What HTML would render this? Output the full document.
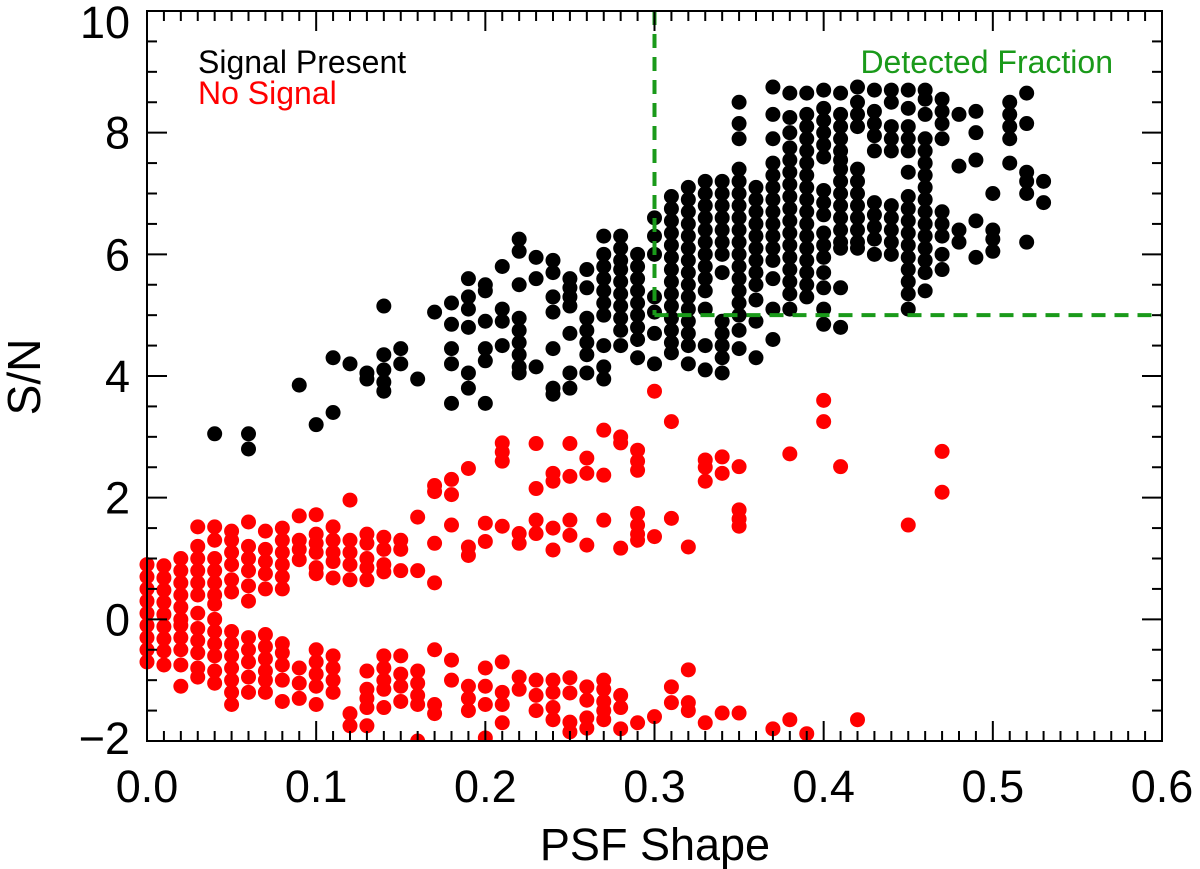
<!DOCTYPE html>
<html><head><meta charset="utf-8"><style>
html,body{margin:0;padding:0;background:#fff;}
svg{display:block;font-family:"Liberation Sans",sans-serif;}
</style></head><body>
<svg id="chart" width="1200" height="869" viewBox="0 0 1200 869" xmlns="http://www.w3.org/2000/svg">
<g id="marks"></g>
<g id="axes"></g>
<text x="198" y="73" font-size="32" fill="#000">Signal Present</text>
<text x="198" y="104" font-size="32" fill="#ff0000">No Signal</text>
<text x="1113" y="73" font-size="32" fill="#1a9a1a" text-anchor="end">Detected Fraction</text>
<text x="655" y="860" font-size="45" text-anchor="middle">PSF Shape</text>
<text transform="translate(40,377) rotate(-90)" font-size="46" text-anchor="middle">S/N</text>
</svg>
<script>
const xTicks=[0.0,0.1,0.2,0.3,0.4,0.5,0.6];
const xTickLabels=["0.0","0.1","0.2","0.3","0.4","0.5","0.6"];
const yTicks=[-2,0,2,4,6,8,10];
const yTickLabels=["\u22122","0","2","4","6","8","10"];
const detectX=0.3;
const detectY=5;

const blackX=[0.04,0.06,0.09,0.10,0.11,0.12,0.13,0.14,0.15,0.16,0.17,0.18,0.19,0.20,0.21,0.22,0.23,0.24,0.25,0.26,0.27,0.28,0.29,0.30,0.31,0.32,0.33,0.34,0.35,0.36,0.37,0.38,0.39,0.40,0.41,0.42,0.43,0.44,0.45,0.46,0.47,0.48,0.49,0.50,0.51,0.52,0.53];
const blackY=[
[3.05],[3.05,2.8],[3.85],[3.2],[4.3,3.4],[4.2],[4.05,3.95],[5.15,4.35,4.1,3.9,3.75],[4.45,4.2],[3.95],[5.05],
[5.2,4.85,4.45,4.2,3.55],[5.6,5.3,5.1,4.8,4.05,3.8],[5.5,5.4,4.9,4.45,4.25,3.55],[5.8,5.1,4.9,4.5],
[6.25,6.05,5.5,4.95,4.75,4.55,4.35,4.15,4.05],[5.95,5.6,4.15],[5.9,5.7,5.3,5.05,4.45,3.8,3.7],
[5.6,5.45,5.3,5.15,4.7,4.05,3.8],[5.75,5.45,4.95,4.75,4.55,4.35,4.05],
[6.3,6.0,5.8,5.6,5.4,5.2,5.0,4.5,4.15,3.95],[6.3,6.1,5.9,5.75,5.55,5.35,5.15,4.95,4.75,4.5],
[6.0,5.8,5.6,5.4,5.2,5.0,4.8,4.6,4.3],[6.6,6.3,6.0,5.3,5.05,4.7,4.2],
[6.95,6.75,6.55,6.35,6.15,5.95,5.75,5.55,5.35,5.15,4.95,4.75,4.55,4.38],
[7.1,6.9,6.7,6.5,6.3,6.1,5.9,5.7,5.5,5.3,5.1,4.9,4.7,4.5,4.2],
[7.2,7.0,6.8,6.6,6.4,6.2,6.0,5.8,5.6,5.4,5.1,4.5,4.1],
[7.2,7.0,6.8,6.6,6.4,6.2,6.0,5.7,4.9,4.7,4.5,4.3,4.05],
[8.5,8.15,7.9,7.4,7.2,7.0,6.8,6.6,6.4,6.2,6.0,5.8,5.6,5.4,5.2,5.0,4.75,4.45],
[7.1,6.9,6.7,6.5,6.3,6.1,5.9,5.7,5.5,5.25,4.9,4.3],
[8.75,8.3,7.9,7.5,7.3,7.1,6.9,6.7,6.5,6.3,6.1,5.9,5.6,5.1,4.6],
[8.65,8.25,8.0,7.75,7.55,7.35,7.15,6.95,6.75,6.55,6.35,6.15,5.95,5.75,5.55,5.35,5.1],
[8.65,8.3,8.1,7.9,7.7,7.5,7.3,7.1,6.9,6.7,6.5,6.3,6.1,5.9,5.7,5.5,5.3],
[8.7,8.4,8.2,8.0,7.8,7.6,7.05,6.85,6.65,6.35,6.15,5.95,5.7,5.45,5.1,4.85],
[8.65,8.3,8.1,7.9,7.7,7.55,7.4,7.2,7.0,6.8,6.6,6.4,6.2,6.1,5.45,4.8],
[8.75,8.5,8.3,8.1,7.4,7.2,7.0,6.8,6.6,6.4,6.2,6.1],
[8.7,8.35,8.15,7.95,7.7,6.85,6.65,6.45,6.25,6.0],
[8.7,8.5,8.1,7.9,7.7,6.8,6.6,6.4,6.2,6.0],
[8.7,8.4,8.1,7.9,7.7,7.35,6.95,6.75,6.55,6.35,6.15,5.95,5.75,5.55,5.35,5.1],
[8.7,8.55,8.3,7.9,7.7,7.5,7.3,7.1,6.9,6.7,6.5,6.3,6.1,5.9,5.7,5.4],
[8.55,8.35,8.15,7.9,6.7,6.5,6.3,6.0,5.75],
[8.3,7.45,6.4,6.2],[8.35,8.0,7.55,6.55,5.95],[7.0,6.4,6.25,6.05],[8.5,8.3,8.1,7.9,7.5],
[8.65,8.15,7.35,7.2,7.0,6.2],[7.2,6.85]
];

const redX=[0.00,0.01,0.02,0.03,0.04,0.05,0.06,0.07,0.08,0.09,0.10,0.11,0.12,0.13,0.14,0.15,0.16,0.17,0.18,0.19,0.20,0.21,0.22,0.23,0.24,0.25,0.26,0.27,0.28,0.29,0.30,0.31,0.32,0.33,0.34,0.35,0.37,0.38,0.39,0.40,0.41,0.42,0.45,0.47];
const redY=[
[0.9,0.7,0.5,0.3,0.1,-0.1,-0.3,-0.5,-0.7],
[0.88,0.68,0.48,0.28,0.08,-0.12,-0.32,-0.52,-0.75],
[1.0,0.8,0.6,0.4,0.2,0.0,-0.1,-0.3,-0.5,-0.75,-1.1],
[1.52,1.2,1.0,0.8,0.6,0.4,0.1,-0.15,-0.35,-0.55,-0.8,-0.95],
[1.52,1.3,1.0,0.8,0.6,0.4,0.25,0.0,-0.2,-0.4,-0.6,-0.85,-1.05],
[1.45,1.3,1.1,0.9,0.65,0.45,-0.2,-0.4,-0.6,-0.8,-1.0,-1.2,-1.4],
[1.6,1.2,1.0,0.8,0.55,0.3,-0.3,-0.5,-0.7,-0.95,-1.2],
[1.45,1.15,0.95,0.75,0.5,-0.25,-0.45,-0.65,-0.85,-1.0,-1.2],
[1.5,1.3,1.1,0.9,0.7,0.5,-0.4,-0.55,-0.75,-1.0,-1.35],
[1.7,1.3,1.15,0.98,-0.8,-1.05,-1.3],
[1.72,1.4,1.25,1.1,0.85,0.75,-0.5,-0.7,-0.9,-1.1,-1.4],
[1.52,1.3,1.1,0.95,0.68,-0.6,-0.8,-1.0,-1.2],
[1.96,1.3,1.1,0.9,0.65,-1.55,-1.75],
[1.4,1.25,1.0,0.85,0.65,-0.85,-1.15,-1.3,-1.45,-1.75],
[1.35,1.15,0.9,0.78,-0.6,-0.8,-1.0,-1.15,-1.45],
[1.3,1.15,0.8,-0.6,-0.9,-1.1,-1.35],
[1.68,0.8,-0.85,-1.05,-1.25,-1.4,-2.0],
[2.2,2.1,1.25,0.6,-0.5,-1.4,-1.55],
[2.3,2.05,1.55,-0.67,-1.0],
[2.48,1.19,1.05,-1.1,-1.3,-1.5],
[1.58,1.28,-0.8,-1.1,-1.4,-1.95],
[2.9,2.75,2.6,1.53,-0.7,-1.2,-1.4,-1.7],
[1.41,1.25,-0.95,-1.15],
[2.89,2.15,1.63,1.41,-1.0,-1.25,-1.5],
[2.4,2.27,1.5,1.14,-1.0,-1.2,-1.45,-1.65],
[2.89,2.35,1.63,1.38,-0.96,-1.21,-1.69,-1.85],
[2.65,2.4,1.22,-1.11,-1.33,-1.62,-1.79],
[3.11,2.37,1.63,-1.0,-1.15,-1.35,-1.5,-1.65],
[3.0,2.9,1.17,-1.25,-1.45,-1.8],
[2.78,2.6,2.45,1.74,1.55,1.4,1.3,-1.7],
[3.75,1.36,-1.6],
[3.25,1.66,-1.11,-1.37],
[1.19,-0.83,-1.37,-1.5],
[2.62,2.5,2.27,-1.7],
[2.67,2.4,-1.54],
[2.51,1.8,1.65,1.53,-1.54],
[-1.8],[2.72,-1.65],[-1.88],[3.6,3.25],[2.51],[-1.65],[1.55],[2.76,2.09]
];

const NS="http://www.w3.org/2000/svg";
const L=147,R=1162,T=11,B=741,xMin=0,xMax=0.6,yMin=-2,yMax=10;
function sx(v){return L+(v-xMin)/(xMax-xMin)*(R-L);}
function sy(v){return B-(v-yMin)/(yMax-yMin)*(B-T);}
function mk(tag,attrs,parent){const e=document.createElementNS(NS,tag);for(const k in attrs)e.setAttribute(k,attrs[k]);parent.appendChild(e);return e;}
const marks=document.getElementById('marks');
const axes=document.getElementById('axes');

const cp=mk('clipPath',{id:'plotclip'},marks);
mk('rect',{x:L-8,y:T,width:R-L+8,height:B-T},cp);
const mg=mk('g',{'clip-path':'url(#plotclip)'},marks);

blackX.forEach((x,i)=>{blackY[i].forEach(y=>{
  const c=mk('circle',{cx:sx(x),cy:sy(y),r:7.5,fill:'#000'},mg);
  
  
});});
redX.forEach((x,i)=>{redY[i].forEach(y=>{
  const c=mk('circle',{cx:sx(x),cy:sy(y),r:7.5,fill:'#ff0000'},mg);
  
  
});});

const dv=mk('line',{x1:sx(detectX),y1:T,x2:sx(detectX),y2:sy(detectY),stroke:'#1a9a1a','stroke-width':4,'stroke-dasharray':'14,9'},marks);


const dh=mk('line',{x1:sx(detectX),y1:sy(detectY),x2:R,y2:sy(detectY),stroke:'#1a9a1a','stroke-width':4,'stroke-dasharray':'14,9'},marks);



const frame=mk('rect',{x:L,y:T,width:R-L,height:B-T,fill:'none',stroke:'#000','stroke-width':2},axes);



for(let k=0;k<=60;k++){const x=sx(k/100);const len=(k%10===0)?20:10;
  mk('line',{x1:x,y1:B,x2:x,y2:B-len,stroke:'#000','stroke-width':2},axes);
  mk('line',{x1:x,y1:T,x2:x,y2:T+len,stroke:'#000','stroke-width':2},axes);}
for(let k=0;k<=24;k++){const v=-2+k*0.5;const y=sy(v);const len=(k%4===0)?20:10;
  mk('line',{x1:L,y1:y,x2:L+len,y2:y,stroke:'#000','stroke-width':2},axes);
  mk('line',{x1:R,y1:y,x2:R-len,y2:y,stroke:'#000','stroke-width':2},axes);}

xTicks.forEach((v,i)=>{
  const t=mk('text',{x:sx(v),y:802,'font-size':45,'text-anchor':'middle'},axes);
  t.textContent=xTickLabels[i];
  
  
});
yTicks.forEach((v,i)=>{
  let y=sy(v)+16; if(v===10) y=sy(v)+27; if(v===-2) y=sy(v)+13;
  const t=mk('text',{x:130,y:y,'font-size':45,'text-anchor':'end'},axes);
  t.textContent=yTickLabels[i];
  
  
});
</script>
</body></html>
